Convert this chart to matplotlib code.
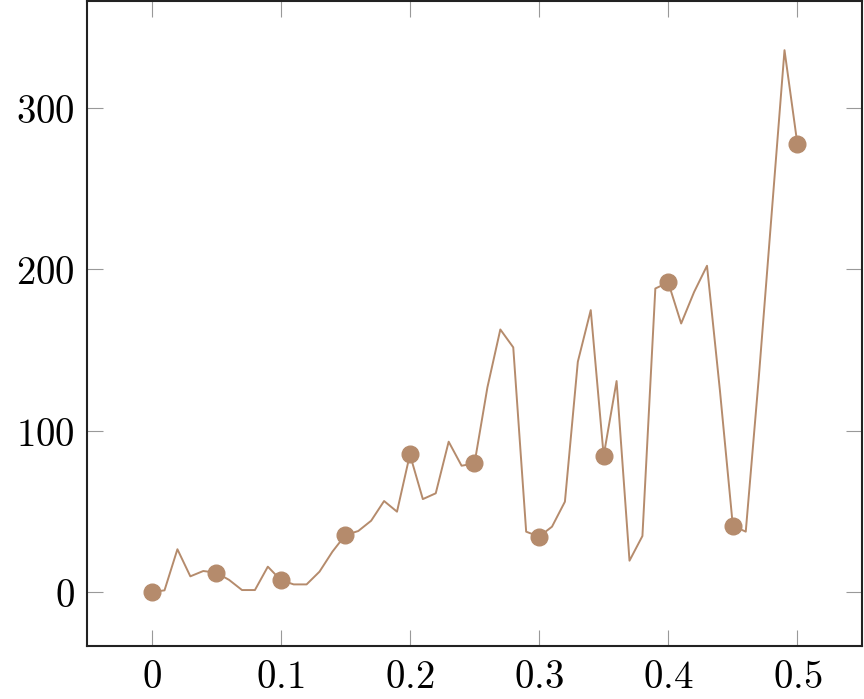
import matplotlib
matplotlib.use("Agg")
import matplotlib.pyplot as plt

x_values = [0.00, 0.01, 0.02, 0.03, 0.04, 0.05, 0.06, 0.07, 0.08, 0.09,
            0.10, 0.11, 0.12, 0.13, 0.14, 0.15, 0.16, 0.17, 0.18, 0.19,
            0.20, 0.21, 0.22, 0.23, 0.24, 0.25, 0.26, 0.27, 0.28, 0.29,
            0.30, 0.31, 0.32, 0.33, 0.34, 0.35, 0.36, 0.37, 0.38, 0.39,
            0.40, 0.41, 0.42, 0.43, 0.44, 0.45, 0.46, 0.47, 0.48, 0.49,
            0.50]
y_values = [0.0, 1.0, 26.5, 9.7, 13.0, 12.0, 7.5, 1.2, 1.2, 15.7,
            7.4, 4.7, 4.7, 12.6, 25.0, 35.3, 37.8, 44.2, 56.4, 49.8,
            85.3, 57.6, 61.2, 93.2, 78.3, 79.7, 126.9, 162.8, 151.7, 37.4,
            34.3, 40.5, 56.0, 142.8, 174.8, 84.5, 130.8, 19.4, 34.7, 188.2,
            192.0, 166.5, 186.0, 202.3, 125.0, 41.1, 37.4, 132.0, 234.0, 336.0,
            277.7]
x_ticks = [0, 0.1, 0.2, 0.3, 0.4, 0.5]
x_tick_labels = ["0", "0.1", "0.2", "0.3", "0.4", "0.5"]
y_ticks = [0, 100, 200, 300]
y_tick_labels = ["0", "100", "200", "300"]

plt.rcParams["mathtext.fontset"] = "cm"

color = "#b58b6c"
fig = plt.figure(figsize=(8.64, 6.99), dpi=100)
ax = fig.add_axes([87/864, 53/699, 775/864, 645/699])

ax.plot(x_values, y_values, color=color, lw=1.4, marker="o", markersize=12,
        markevery=5, markerfacecolor=color, markeredgecolor=color)

ax.set_xlim(-0.05, 0.55)
ax.set_ylim(-33.5, 366.5)
ax.set_xticks(x_ticks)
ax.set_xticklabels(["$" + t + "$" for t in x_tick_labels])
ax.set_yticks(y_ticks)
ax.set_yticklabels(["$" + t + "$" for t in y_tick_labels])

ax.tick_params(direction="in", length=11.5, width=0.8, color="#999999",
               top=True, right=True, labelsize=28, pad=9)
for s in ax.spines.values():
    s.set_linewidth(1.5)
    s.set_color("#222222")

fig.savefig("out.png", dpi=100)
